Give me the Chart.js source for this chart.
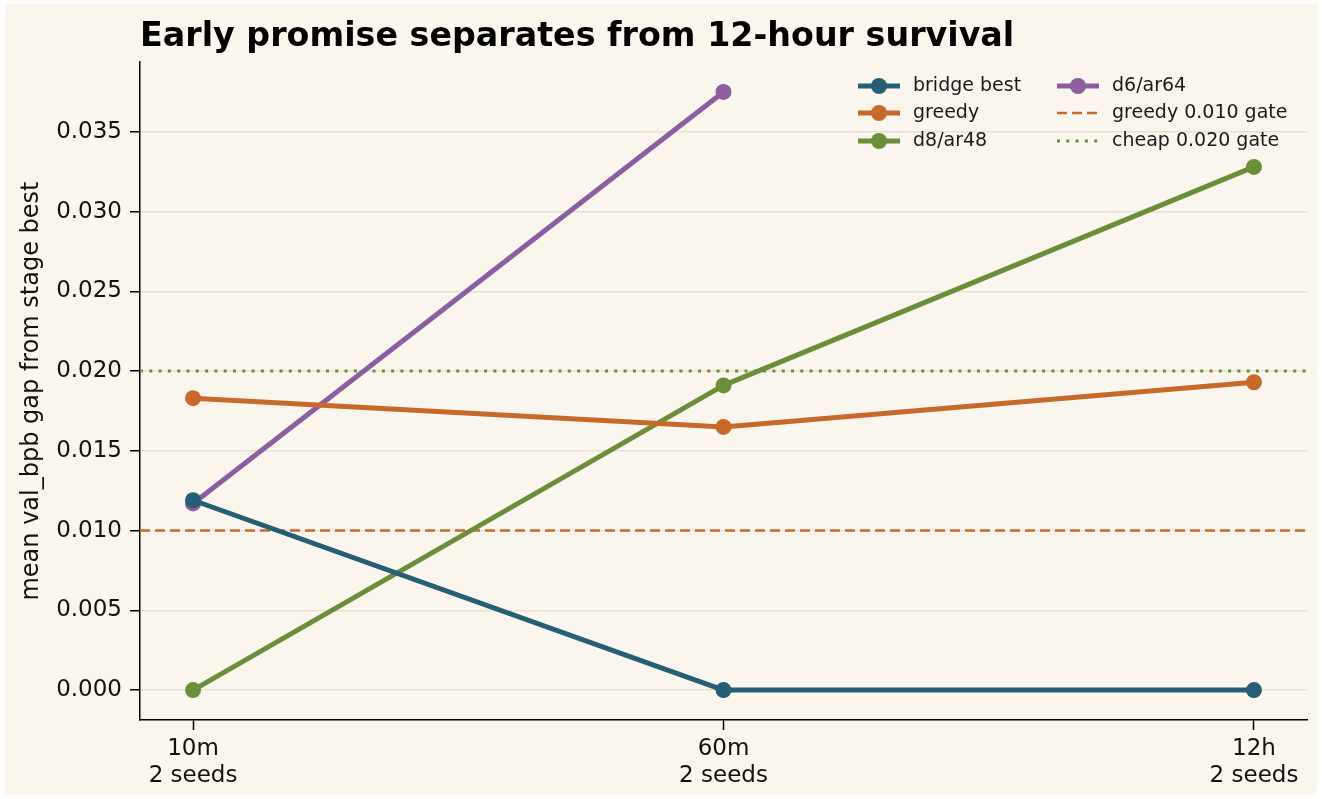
<!DOCTYPE html>
<html>
<head>
<meta charset="utf-8">
<script src="https://cdn.jsdelivr.net/npm/chart.js@4.4.0/dist/chart.umd.min.js"></script>
<style>
  html, body { margin: 0; padding: 0; background: #ffffff; }
  #wrap { position: absolute; left: 5px; top: 4px; width: 1312px; height: 791px; background: #faf6ee; }
</style>
</head>
<body>
<div id="wrap"><canvas id="gapChart" width="1312" height="791"></canvas></div>
<script>
const stageLabels = [['10m', '2 seeds'], ['60m', '2 seeds'], ['12h', '2 seeds']];
const stagePos = [0, 1, 2];
const bridgeBest = [0.0119, 0.0, 0.0];
const greedy = [0.0183, 0.0165, 0.0193];
const d8ar48 = [0.0, 0.0191, 0.0328];
const d6ar64 = [0.0117, 0.0375];
const greedyGate = 0.010;
const cheapGate = 0.020;
const yTicks = [0, 0.005, 0.010, 0.015, 0.020, 0.025, 0.030, 0.035];

const toPts = vals => vals.map((v, i) => ({ x: stagePos[i], y: v }));
const gateLine = v => [{ x: -0.1, y: v }, { x: 2.1, y: v }];

const cBridge = '#255e75';
const cGreedy = '#c8692c';
const cGreen = '#6b8e3a';
const cPurple = '#8b5e9f';

const font = 'DejaVu Sans, sans-serif';

const series = [
   { label: 'bridge best', data: toPts(bridgeBest), color: cBridge },
   { label: 'greedy', data: toPts(greedy), color: cGreedy },
   { label: 'd8/ar48', data: toPts(d8ar48), color: cGreen },
   { label: 'd6/ar64', data: toPts(d6ar64), color: cPurple }
];

const datasets = series.map(s => ({
   label: s.label,
   data: s.data,
   borderColor: s.color,
   backgroundColor: s.color,
   borderWidth: 5,
   borderJoinStyle: 'round',
   borderCapStyle: 'round',
   pointRadius: 8,
   pointHoverRadius: 8,
   pointBorderWidth: 0,
   tension: 0
}));
datasets.push({
   label: 'greedy 0.010 gate', data: gateLine(greedyGate), borderColor: cGreedy,
   borderWidth: 2.5, borderDash: [10, 5], pointRadius: 0, order: 10
});
datasets.push({
   label: 'cheap 0.020 gate', data: gateLine(cheapGate), borderColor: cGreen,
   borderWidth: 3, borderDash: [3, 6.3], pointRadius: 0, order: 10
});

// title + two-column legend inside the plot
const decor = {
   id: 'decor',
   afterDraw(chart) {
      const { ctx, chartArea } = chart;
      ctx.save();
      ctx.fillStyle = '#000';
      ctx.font = 'bold 33.3px ' + font;
      ctx.textBaseline = 'middle';
      ctx.textAlign = 'left';
      ctx.fillText('Early promise separates from 12-hour survival', chartArea.left, 33);

      const items = chart.data.datasets;
      const cols = [[0, 1, 2], [3, 4, 5]];
      const colX = [853, 1052];
      const rowY = [82, 109, 137];
      ctx.font = '19px ' + font;
      cols.forEach((col, ci) => {
         col.forEach((di, ri) => {
            const d = items[di];
            const x0 = colX[ci], y = rowY[ri];
            ctx.strokeStyle = d.borderColor;
            ctx.lineWidth = d.borderWidth;
            ctx.setLineDash(d.borderDash || []);
            ctx.beginPath();
            ctx.moveTo(x0, y);
            ctx.lineTo(x0 + 42, y);
            ctx.stroke();
            ctx.setLineDash([]);
            if (d.pointRadius) {
               ctx.fillStyle = d.borderColor;
               ctx.beginPath();
               ctx.arc(x0 + 21, y, 8, 0, Math.PI * 2);
               ctx.fill();
            }
            ctx.fillStyle = '#1a1a1a';
            ctx.fillText(d.label, x0 + 55, y);
         });
      });
      ctx.restore();
   }
};

new Chart(document.getElementById('gapChart'), {
   type: 'line',
   data: { datasets },
   options: {
      responsive: false,
      animation: false,
      layout: { padding: { top: 58, right: 10, left: 0, bottom: 0 } },
      plugins: { legend: { display: false }, tooltip: { enabled: false } },
      scales: {
         x: {
            type: 'linear',
            min: -0.1,
            max: 2.1,
            afterBuildTicks: s => { s.ticks = stagePos.map(v => ({ value: v })); },
            afterFit: s => { s.height = 75; },
            ticks: {
               color: '#111',
               font: { family: font, size: 23 },
               padding: 5,
               maxRotation: 0,
               callback: v => stageLabels[v]
            },
            grid: { drawOnChartArea: false, tickColor: '#000', tickLength: 10, tickWidth: 1.5 },
            border: { color: '#000', width: 1.5 }
         },
         y: {
            type: 'linear',
            min: -0.001875,
            max: 0.039375,
            afterBuildTicks: s => { s.ticks = yTicks.map(v => ({ value: v })); },
            afterFit: s => { s.width = 135; },
            ticks: {
               color: '#111',
               font: { family: font, size: 23 },
               padding: 8,
               callback: v => v.toFixed(3)
            },
            title: {
               display: true,
               text: 'mean val_bpb gap from stage best',
               color: '#111',
               font: { family: font, size: 24 },
               padding: { top: 12, bottom: 4 }
            },
            grid: { color: '#e8e1d2', lineWidth: 1.5, tickColor: '#000', tickLength: 10, tickWidth: 1.5 },
            border: { color: '#000', width: 1.5 }
         }
      }
   },
   plugins: [decor]
});
</script>
</body>
</html>
